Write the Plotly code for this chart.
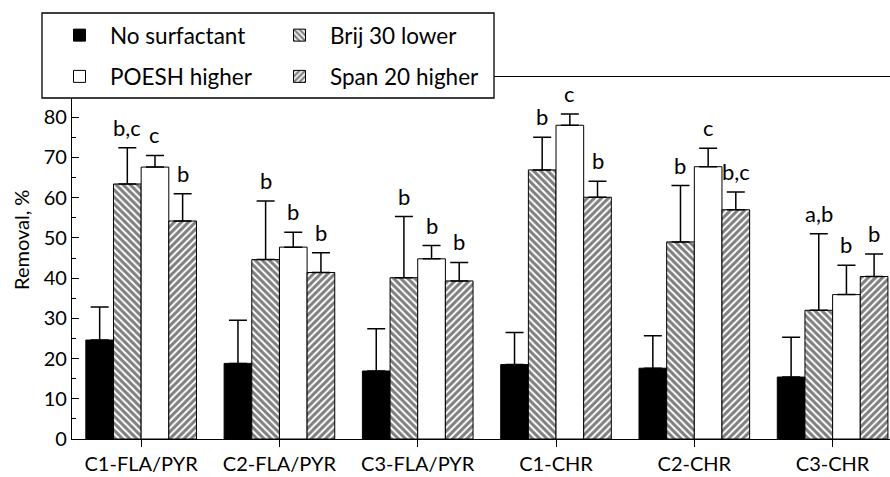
import plotly.graph_objects as go

categories = ["C1-FLA/PYR", "C2-FLA/PYR", "C3-FLA/PYR", "C1-CHR", "C2-CHR", "C3-CHR"]

no_surf = [24.6, 18.8, 16.9, 18.5, 17.6, 15.4]
no_surf_err = [8.2, 10.7, 10.5, 8.0, 8.1, 9.9]
brij = [63.4, 44.6, 40.1, 66.9, 49.0, 32.0]
brij_err = [9.0, 14.6, 15.2, 8.1, 14.0, 19.0]
poesh = [67.6, 47.7, 44.8, 78.0, 67.7, 35.9]
poesh_err = [2.9, 3.7, 3.3, 2.8, 4.6, 7.3]
span = [54.2, 41.4, 39.3, 60.1, 57.0, 40.4]
span_err = [6.8, 4.9, 4.6, 4.0, 4.4, 5.6]

letters_no_surf = ["", "", "", "", "", ""]
letters_brij = ["b,c", "b", "b", "b", "b", "a,b"]
letters_poesh = ["c", "b", "b", "c", "c", "b"]
letters_span = ["b", "b", "b", "b", "b,c", "b"]

FONT = "Lato"
W, H = 890, 477
ML, MR, MT, MB = 72, 0, 77, 38
PW, PH = W - ML - MR, H - MT - MB

def err(arr):
    return dict(type="data", array=arr, arrayminus=[0] * len(arr), symmetric=False,
                color="black", thickness=1.5, width=9)

fig = go.Figure()
fig.add_trace(go.Bar(name="No surfactant", x=categories, y=no_surf, error_y=err(no_surf_err),
                     marker=dict(color="black", line=dict(color="black", width=1)),
                     legend="legend", legendgroup="a"))
fig.add_trace(go.Bar(name="Brij 30 lower", x=categories, y=brij, error_y=err(brij_err),
                     marker=dict(color="white", line=dict(color="black", width=1),
                                 pattern=dict(shape="\\", fgcolor="black", bgcolor="white",
                                              size=5, solidity=0.6)),
                     legend="legend2", legendgroup="b"))
fig.add_trace(go.Bar(name="POESH higher", x=categories, y=poesh, error_y=err(poesh_err),
                     marker=dict(color="white", line=dict(color="black", width=1)),
                     legend="legend", legendgroup="c"))
fig.add_trace(go.Bar(name="Span 20 higher", x=categories, y=span, error_y=err(span_err),
                     marker=dict(color="white", line=dict(color="black", width=1),
                                 pattern=dict(shape="/", fgcolor="black", bgcolor="white",
                                              size=5, solidity=0.6)),
                     legend="legend2", legendgroup="d"))

offsets = [-0.3, -0.1, 0.1, 0.3]
series = [(no_surf, no_surf_err, letters_no_surf), (brij, brij_err, letters_brij),
          (poesh, poesh_err, letters_poesh), (span, span_err, letters_span)]
for k, (vals, errs, labs) in enumerate(series):
    for i, (v, e, t) in enumerate(zip(vals, errs, labs)):
        if t:
            fig.add_annotation(x=i + offsets[k], y=v + e, text=t, showarrow=False,
                               yanchor="bottom", yshift=5,
                               font=dict(family=FONT, size=22, color="black"))

# y-axis title
fig.add_annotation(xref="paper", yref="paper", x=0, xshift=-51, xanchor="center",
                   y=(H - MB - 240) / PH, yanchor="middle",
                   text="Removal, %", textangle=-90, showarrow=False,
                   font=dict(family=FONT, size=20, color="black"))

# legend frame
fig.add_shape(type="rect", xref="paper", yref="paper", layer="above",
              x0=(42 - ML) / PW, x1=(494 - ML) / PW,
              y0=(H - MB - 98) / PH, y1=(H - MB - 13) / PH,
              fillcolor="white", line=dict(color="black", width=1.3))

fig.update_layout(
    width=W, height=H,
    margin=dict(l=ML, r=MR, t=MT, b=MB),
    paper_bgcolor="white", plot_bgcolor="white",
    barmode="group", bargap=0.2, bargroupgap=0,
    font=dict(family=FONT, size=20, color="black"),
    showlegend=True,
    legend=dict(x=(49 - ML) / PW, y=(H - MB - 14) / PH, xanchor="left", yanchor="top",
                bgcolor="rgba(0,0,0,0)", borderwidth=0, tracegroupgap=9,
                font=dict(family=FONT, size=22.5), itemwidth=51, traceorder="grouped"),
    legend2=dict(x=(269 - ML) / PW, y=(H - MB - 14) / PH, xanchor="left", yanchor="top",
                 bgcolor="rgba(0,0,0,0)", borderwidth=0, tracegroupgap=9,
                 font=dict(family=FONT, size=22.5), itemwidth=51, traceorder="grouped"),
    xaxis=dict(range=[-0.5, 5.415], showline=True, linecolor="black", linewidth=1.3,
               mirror=True, ticks="outside", ticklen=7, tickcolor="black", tickwidth=1.3,
               showgrid=False, zeroline=False, tickfont=dict(family=FONT, size=20)),
    yaxis=dict(range=[0, 90], tickvals=[0, 10, 20, 30, 40, 50, 60, 70, 80],
               showline=True, linecolor="black", linewidth=1.3,
               ticks="inside", ticklen=7, tickcolor="black", tickwidth=1.3,
               minor=dict(tickvals=[5, 15, 25, 35, 45, 55, 65, 75, 85], ticks="inside",
                          ticklen=4, tickcolor="black", tickwidth=1.3),
               showgrid=False, zeroline=False, tickfont=dict(family=FONT, size=20)),
)

fig.write_html("out.html", config={"displayModeBar": False},
               post_script="document.body.style.margin='0';")
